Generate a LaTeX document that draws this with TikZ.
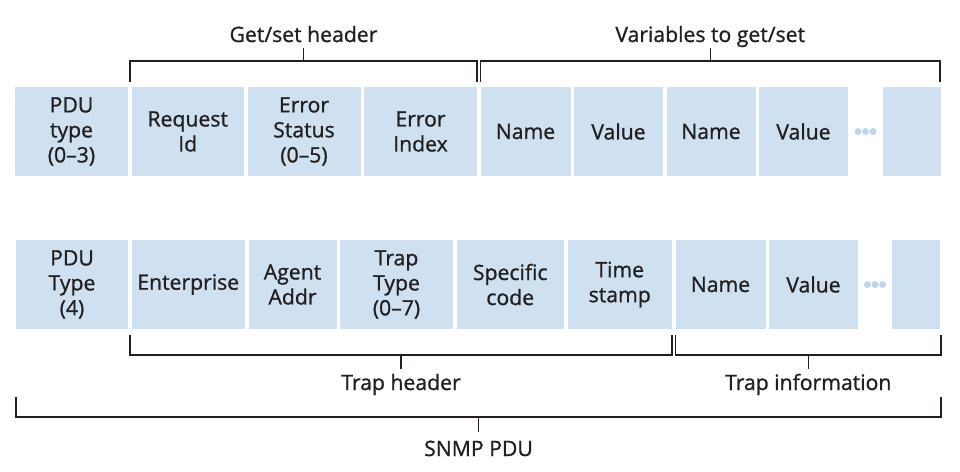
\documentclass[tikz,border=0pt]{standalone}
\usepackage{fontspec}
\setmainfont{Open Sans}[RawFeature={embolden=1}]
\usetikzlibrary{positioning,calc}
\definecolor{fieldblue}{HTML}{CFE1F0}
\definecolor{dotblue}{HTML}{BFD5E9}
\definecolor{inkgray}{HTML}{231F20}

\begin{document}
\begin{tikzpicture}[x=1pt,y=1pt,node distance=3.5pt,font=\fontsize{21.2}{25}\selectfont,text=inkgray]
    \tikzstyle{field}=[fill=fieldblue,minimum height=89pt,inner sep=0pt,outer sep=0pt,align=center]
    \tikzstyle{bracket}=[draw=inkgray,line width=1.2pt]
    \tikzstyle{tag}=[anchor=base,inner sep=0pt]
    \useasboundingbox (0,0) rectangle (960,471);
    % get/set PDU
    \node[field,minimum width=113pt,anchor=north west] (gtype) at (15,384) {PDU\\type\\(0–3)};
    \node[field,minimum width=112.5pt,right=of gtype] (reqid) {Request\\Id};
    \node[field,minimum width=113pt,right=of reqid] (errst) {Error\\Status\\(0–5)};
    \node[field,minimum width=113pt,right=of errst] (errix) {Error\\Index};
    \node[field,minimum width=90pt,right=of errix] (gname1) {Name};
    \node[field,minimum width=89pt,right=of gname1] (gval1) {Value};
    \node[field,minimum width=89pt,right=of gval1] (gname2) {Name};
    \node[field,minimum width=89pt,right=of gname2] (gval2) {Value};
    \node[field,minimum width=58pt,anchor=north east] (glast) at (941,384) {};
    \coordinate (gmore) at ($(gval2.east)!0.5!(glast.west)$);
    \foreach \dx in {-7.5,0,7.5}
        \fill[dotblue] ($(gmore)+(\dx,0)$) circle (3.5pt);
    % trap PDU
    \node[field,minimum width=112pt,anchor=north west] (ttype) at (16,231) {PDU\\Type\\(4)};
    \node[field,minimum width=113.5pt,right=of ttype] (enterp) {Enterprise};
    \node[field,minimum width=88pt,right=of enterp] (agent) {Agent\\Addr};
    \node[field,minimum width=113pt,right=of agent] (trapty) {Trap\\Type\\(0–7)};
    \node[field,minimum width=107.5pt,right=of trapty] (specif) {Specific\\code};
    \node[field,minimum width=104.5pt,right=of specif] (tstamp) {Time\\stamp};
    \node[field,minimum width=90pt,right=of tstamp] (tname) {Name};
    \node[field,minimum width=89pt,right=of tname] (tval) {Value};
    \node[field,minimum width=48pt,anchor=north east] (tlast) at (940,231) {};
    \coordinate (tmore) at ($(tval.east)!0.5!(tlast.west)$);
    \foreach \dx in {-7.5,0,7.5}
        \fill[dotblue] ($(tmore)+(\dx,0)$) circle (3.5pt);
    % brackets above
    \draw[bracket] ([xshift=-1.5pt,yshift=5pt]reqid.north west) -- ++(0,21) -| ([yshift=5pt]errix.north east);
    \draw[bracket] ($([xshift=-1.5pt,yshift=26pt]reqid.north west)!0.5!([yshift=26pt]errix.north east)$) -- ++(0,13) coordinate (gtick);
    \node[tag] (gethdr) at ([yshift=6pt]gtick) {Get/set header};
    \draw[bracket] ([yshift=5pt]gname1.north west) -- ++(0,21) -| ([xshift=-1pt,yshift=5pt]glast.north east);
    \draw[bracket] ($([yshift=26pt]gname1.north west)!0.5!([xshift=-1pt,yshift=26pt]glast.north east)$) -- ++(0,13) coordinate (vtick);
    \node[tag] (varhdr) at ([yshift=6pt]vtick) {Variables to get/set};
    % brackets below
    \draw[bracket] ([xshift=-1.5pt,yshift=-6pt]enterp.south west) -- ++(0,-20) -| ([yshift=-6pt]tstamp.south east);
    \draw[bracket] ($([xshift=-1.5pt,yshift=-26pt]enterp.south west)!0.5!([yshift=-26pt]tstamp.south east)$) -- ++(0,-14) coordinate (thtick);
    \node[tag] (traphdr) at ([yshift=-21pt]thtick) {Trap header};
    \draw[bracket] ([yshift=-6pt]tname.south west) -- ++(0,-20) -| ([xshift=1pt,yshift=-6pt]tlast.south east);
    \draw[bracket] ($([yshift=-26pt]tname.south west)!0.5!([xshift=1pt,yshift=-26pt]tlast.south east)$) -- ++(0,-14) coordinate (titick);
    \node[tag] (trapinf) at ([yshift=-21pt]titick) {Trap information};
    \draw[bracket] ([yshift=-68pt]ttype.south west) -- ++(0,-20) -| ([xshift=1pt,yshift=-68pt]tlast.south east);
    \draw[bracket] ($([yshift=-88pt]ttype.south west)!0.5!([xshift=1pt,yshift=-88pt]tlast.south east)$) -- ++(0,-15) coordinate (stick);
    \node[tag] (snmppdu) at ([yshift=-24pt]stick) {SNMP PDU};
\end{tikzpicture}
\end{document}
